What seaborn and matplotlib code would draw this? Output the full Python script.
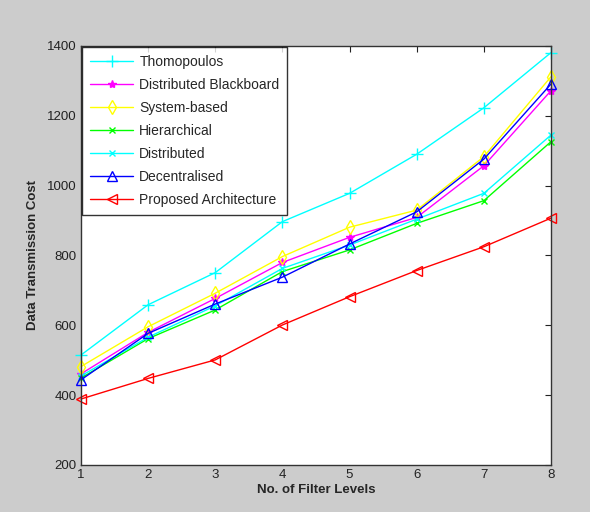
import matplotlib
matplotlib.use('Agg')
import matplotlib.pyplot as plt
import numpy as np
import pandas as pd
import seaborn as sns

# Data
levels = [1, 2, 3, 4, 5, 6, 7, 8]
thomopoulos = [515, 659, 751, 897, 978, 1090, 1223, 1381]
distributed_blackboard = [461, 580, 677, 780, 852, 909, 1057, 1272]
system_based = [482, 596, 692, 797, 881, 930, 1083, 1312]
hierarchical = [449, 562, 644, 754, 816, 892, 957, 1126]
distributed = [455, 566, 656, 763, 830, 904, 978, 1145]
decentralised = [444, 577, 661, 738, 833, 925, 1076, 1291]
proposed = [389, 448, 501, 601, 682, 757, 825, 907]

series = [
    ('Thomopoulos', thomopoulos, '#00ffff', '+', 8),
    ('Distributed Blackboard', distributed_blackboard, '#ff00ff', '*', 6),
    ('System-based', system_based, '#ffff00', 'd', 7),
    ('Hierarchical', hierarchical, '#00ff00', 'x', 5),
    ('Distributed', distributed, '#00ffff', 'x', 5),
    ('Decentralised', decentralised, '#0000ff', '^', 7),
    ('Proposed Architecture', proposed, '#ff0000', '<', 7),
]

sns.set_style('white')
plt.rcParams['font.family'] = ['Liberation Sans', 'DejaVu Sans']

fig = plt.figure(figsize=(5.9, 5.12), dpi=100, facecolor='#cccccc')
ax = fig.add_axes([0.1373, 0.0918, 0.7966, 0.8184])
ax.set_facecolor('white')

for name, vals, color, marker, msize in series:
    df = pd.DataFrame({'level': levels, 'cost': vals})
    filled = marker in ('+', 'x', '*')
    sns.lineplot(data=df, x='level', y='cost', ax=ax, color=color, linewidth=1,
                 marker=marker, markersize=msize,
                 markerfacecolor=color if filled else 'none',
                 markeredgecolor=color, markeredgewidth=1, label=name,
                 clip_on=False)

ax.set_xlim(1, 8)
ax.set_ylim(200, 1400)
ax.set_xticks(levels)
ax.set_yticks(np.arange(200, 1401, 200))
ax.tick_params(direction='in', top=True, right=True, length=4, width=0.8,
               labelsize=9.5, colors='#222222', pad=3)
for s in ax.spines.values():
    s.set_color('#333333')
    s.set_linewidth(1)

ax.set_xlabel('No. of Filter Levels', fontsize=9.5, fontweight='bold', labelpad=2)
ax.set_ylabel('Data Transmission Cost', fontsize=9.5, fontweight='bold', labelpad=6)

leg = ax.legend(loc='upper left', fontsize=10, frameon=True, fancybox=False,
                handlelength=3.1, borderaxespad=0.1, labelspacing=0.65,
                borderpad=0.55, handletextpad=0.45)
leg.get_frame().set_edgecolor('black')
leg.get_frame().set_linewidth(1)
leg.set_zorder(5)

fig.savefig('out.png', dpi=100, facecolor=fig.get_facecolor())
